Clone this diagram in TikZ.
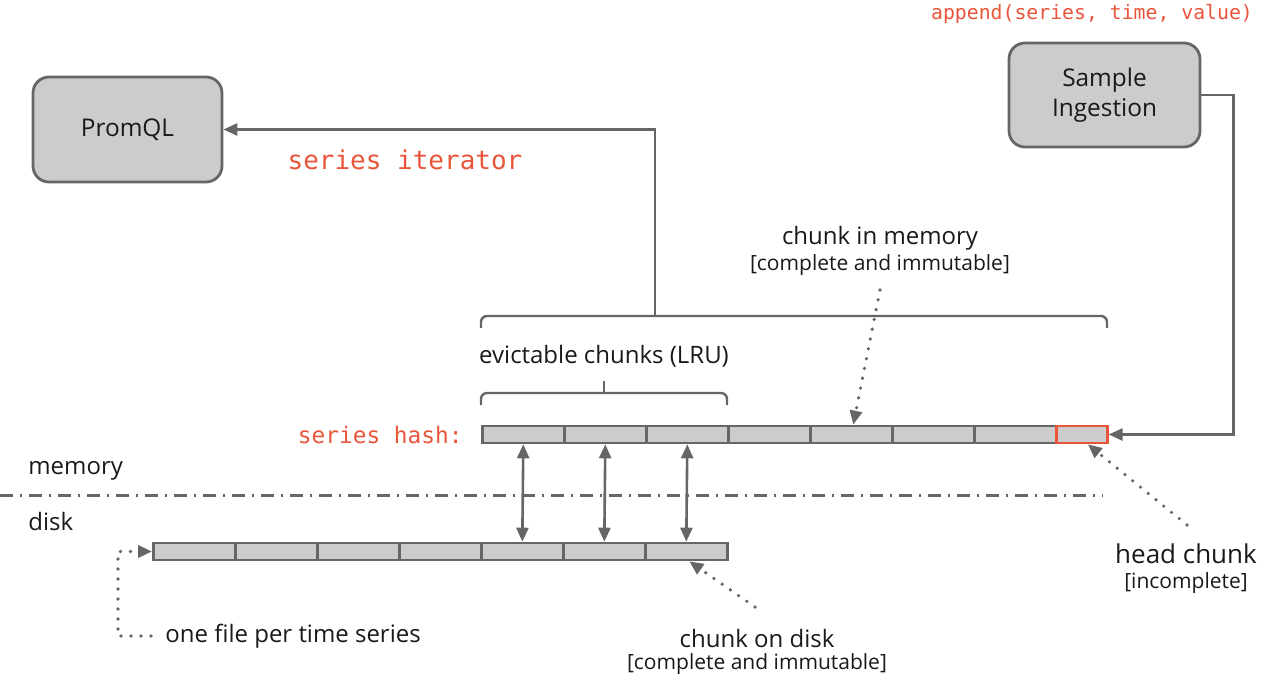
\documentclass[tikz,border=0pt]{standalone}
\usepackage{fontspec}
\setmainfont{Open Sans}
\setmonofont{DejaVu Sans Mono}
\usetikzlibrary{arrows.meta}
\begin{document}
\begin{tikzpicture}[x=0.5pt,y=-0.5pt,>={Triangle[length=7pt,width=6pt]},
    box/.style={draw=gline,fill=gfill,line width=1.4pt,rounded corners=8pt,align=center,
        font=\fontsize{12.2}{15}\selectfont,text=ink},
    chunk/.style={draw=gline,fill=gfill,line width=1.3pt,minimum width=41pt,minimum height=8.5pt,
        inner sep=0pt,anchor=west},
    lbl/.style={font=\fontsize{12}{14}\selectfont,text=ink,inner sep=1pt},
    sub/.style={font=\fontsize{10.5}{12}\selectfont,text=ink,inner sep=1pt},
    code/.style={font=\ttfamily,text=rred,inner sep=1pt},
    link/.style={draw=gline,line width=1.3pt},
    dots/.style={draw=gline,line width=1.8pt,line cap=round,dash pattern=on 0pt off 5pt},
    brace/.style={draw=gline,line width=1.2pt,rounded corners=3pt}]
    %colores
    \colorlet{gline}{black!60}
    \colorlet{gfill}{black!20}
    \colorlet{ink}{black!90}
    \definecolor{rred}{HTML}{E8553A}
    \useasboundingbox (0,0) rectangle (1269,684);

    % cajas
    \node[box,minimum width=94.5pt,minimum height=52.5pt] (promql) at (127.5,129.5) {PromQL};
    \node[box,minimum width=95.5pt,minimum height=52pt] (ingest) at (1104.5,95) {Sample\\Ingestion};
    \node[code,font=\ttfamily\fontsize{9.9}{12}\selectfont] (append) at (1092,14) {append(series, time, value)};
    \node[code,font=\ttfamily\fontsize{13}{15}\selectfont] (iter) at (405,160) {series iterator};

    % chunks en memoria
    \node[code,font=\ttfamily\fontsize{11.4}{13}\selectfont,anchor=east] (hash) at (465,435) {series hash:};
    \foreach \i in {1,...,7}
        \node[chunk] (m\i) at ({481+82*(\i-1)},434.5) {};
    \node[chunk,draw=rred,minimum width=25.5pt] (head) at (1055,434.5) {};

    % chunks en disco
    \foreach \i in {1,...,7}
        \node[chunk] (d\i) at ({152+82*(\i-1)},551.5) {};

    % memoria / disco
    \draw[draw=gline,line width=1.5pt,dash pattern=on 6.5pt off 3.5pt on 1pt off 3.5pt] (0,495) -- (1103,495);
    \node[lbl,anchor=west] (mem) at (26,471) {memory};
    \node[lbl,anchor=west] (dsk) at (26,521) {disk};

    % llaves
    \draw[brace] (481,328) -- (481,316) -- (1107,316) -- (1107,328);
    \coordinate (bigtop) at (655,316);
    \draw[brace] (481,405) -- (481,393) -- (727,393) -- (727,405);
    \draw[brace] (604,393) -- (604,381);
    \node[lbl] (lru) at (604,356) {evictable chunks (LRU)};

    % flechas
    \draw[link,->] (bigtop) |- (promql.east);
    \draw[link,->] (ingest.east) -- ++(32,0) |- (head.east);
    \foreach \i/\j in {1/5,2/6,3/7}
        \draw[link,<->] (m\i.south) -- (d\j.north);

    % textos y punteados
    \node[lbl] (cim) at (880,238) {chunk in memory};
    \node[sub] (cimsub) at (880,265) {[complete and immutable]};
    \draw[dots,->] (880,290) -- ([xshift=1pt]m5.north);
    \node[lbl,font=\fontsize{13}{15}\selectfont] (hc) at (1186,554) {head chunk};
    \node[sub] (hcsub) at (1186,583) {[incomplete]};
    \draw[dots,->] (1187,525) -- ([xshift=3pt]head.south);
    \node[lbl] (cod) at (757,638) {chunk on disk};
    \node[sub] (codsub) at (757,664) {[complete and immutable]};
    \draw[dots,->] (755,607) -- ([xshift=1.5pt]d7.south);
    \node[lbl,anchor=west] (ofs) at (163,636) {one file per time series};
    \draw[dots,->] ([xshift=-6pt]ofs.west) -| ([xshift=-17pt]d1.west) -- (d1.west);
\end{tikzpicture}
\end{document}
